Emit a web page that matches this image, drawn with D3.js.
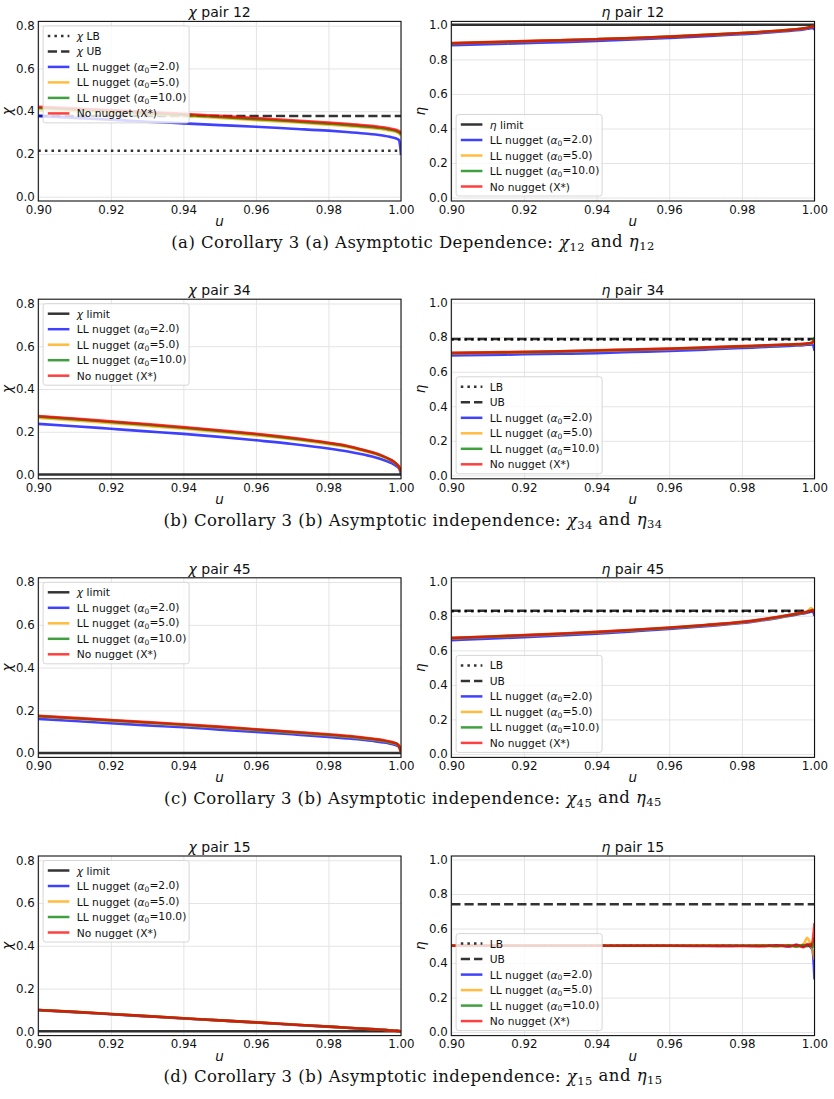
<!DOCTYPE html>
<html>
<head>
<meta charset="utf-8">
<script src="https://cdn.jsdelivr.net/npm/d3@7"></script>
<style>
  body { margin: 0; background: #fff; }
  svg text { font-family: "DejaVu Sans", sans-serif; fill: #111; }
  .grid line { stroke: #e4e4e4; stroke-width: 1; }
  .grid path { display: none; }
  .caption { font-family: "DejaVu Serif", serif; }
</style>
</head>
<body>
<svg id="fig" width="834" height="1099"></svg>
<script>
// threshold grid u (shared by every panel)
let uGrid = [0.90, 0.91, 0.92, 0.93, 0.94, 0.95, 0.96, 0.97, 0.98, 0.985, 0.99, 0.993, 0.995, 0.997, 0.998, 0.999, 0.9995, 1.0];

let xTicks = [0.90, 0.92, 0.94, 0.96, 0.98, 1.00];
let chiTicks = [0.0, 0.2, 0.4, 0.6, 0.8];
let etaTicks = [0.0, 0.2, 0.4, 0.6, 0.8, 1.0];
let alpha0 = ["2.0", "5.0", "10.0"];
let pairs = ["12", "34", "45", "15"];

// pair 12
let chi12LB = 0.215, chi12UB = 0.378, eta12Limit = 1.0;
let chi12_a2  = [0.378,0.369,0.360,0.351,0.343,0.335,0.327,0.318,0.309,0.303,0.296,0.291,0.286,0.280,0.276,0.270,0.263,0.195];
let chi12_a5  = [0.410,0.402,0.394,0.386,0.378,0.368,0.358,0.348,0.337,0.331,0.324,0.319,0.315,0.309,0.306,0.300,0.295,0.285];
let chi12_a10 = [0.416,0.408,0.400,0.391,0.383,0.373,0.363,0.353,0.342,0.336,0.329,0.324,0.320,0.314,0.311,0.305,0.301,0.292];
let chi12_nn  = [0.421,0.413,0.405,0.396,0.388,0.378,0.368,0.358,0.347,0.341,0.334,0.329,0.325,0.319,0.316,0.311,0.307,0.298];
let eta12_a2  = [0.882,0.888,0.894,0.900,0.907,0.915,0.924,0.934,0.946,0.952,0.960,0.965,0.969,0.974,0.977,0.980,0.982,0.972];
let eta12_a5  = [0.892,0.898,0.904,0.910,0.916,0.923,0.931,0.941,0.952,0.958,0.965,0.970,0.974,0.979,0.982,0.986,0.990,0.993];
let eta12_a10 = [0.893,0.899,0.905,0.911,0.917,0.924,0.932,0.942,0.953,0.959,0.966,0.971,0.975,0.980,0.983,0.987,0.991,0.998];
let eta12_nn  = [0.894,0.900,0.906,0.911,0.917,0.924,0.932,0.942,0.953,0.959,0.966,0.971,0.975,0.980,0.983,0.987,0.990,0.996];

// pair 34
let chi34Limit = 0.0, eta34LB = 0.786, eta34UB = 0.790;
let chi34_a2  = [0.237,0.226,0.214,0.202,0.190,0.176,0.160,0.143,0.122,0.109,0.092,0.080,0.069,0.056,0.048,0.036,0.027,0.003];
let chi34_a5  = [0.265,0.253,0.240,0.227,0.214,0.199,0.183,0.165,0.142,0.129,0.109,0.095,0.083,0.068,0.058,0.044,0.033,0.010];
let chi34_a10 = [0.271,0.259,0.246,0.233,0.219,0.204,0.188,0.169,0.147,0.133,0.112,0.098,0.085,0.070,0.060,0.045,0.034,0.011];
let chi34_nn  = [0.274,0.262,0.249,0.236,0.222,0.207,0.191,0.172,0.149,0.135,0.114,0.100,0.087,0.071,0.061,0.046,0.035,0.012];
let eta34_a2  = [0.694,0.697,0.701,0.704,0.708,0.714,0.720,0.728,0.737,0.742,0.747,0.750,0.752,0.754,0.756,0.757,0.758,0.722];
let eta34_a5  = [0.706,0.709,0.712,0.716,0.721,0.726,0.731,0.738,0.745,0.749,0.753,0.756,0.758,0.760,0.762,0.764,0.768,0.780];
let eta34_a10 = [0.708,0.711,0.714,0.718,0.723,0.728,0.733,0.740,0.747,0.751,0.755,0.757,0.759,0.761,0.763,0.766,0.772,0.800];
let eta34_nn  = [0.709,0.712,0.715,0.719,0.724,0.729,0.734,0.741,0.748,0.752,0.756,0.758,0.760,0.762,0.764,0.766,0.770,0.785];

// pair 45
let chi45Limit = 0.0, eta45LB = 0.826, eta45UB = 0.829;
let chi45_a2  = [0.160,0.150,0.140,0.130,0.121,0.110,0.099,0.088,0.076,0.069,0.061,0.055,0.050,0.044,0.040,0.034,0.027,0.002];
let chi45_a5  = [0.171,0.161,0.151,0.141,0.131,0.120,0.108,0.096,0.084,0.077,0.068,0.062,0.057,0.050,0.046,0.040,0.031,0.003];
let chi45_a10 = [0.173,0.163,0.153,0.143,0.133,0.122,0.110,0.098,0.086,0.079,0.070,0.064,0.059,0.052,0.048,0.042,0.032,0.003];
let chi45_nn  = [0.175,0.165,0.155,0.145,0.135,0.124,0.112,0.100,0.088,0.081,0.072,0.066,0.061,0.054,0.050,0.043,0.033,0.004];
let eta45_a2  = [0.659,0.667,0.676,0.686,0.697,0.710,0.724,0.740,0.758,0.772,0.788,0.799,0.806,0.814,0.818,0.823,0.825,0.800];
let eta45_a5  = [0.669,0.677,0.685,0.694,0.704,0.716,0.729,0.744,0.762,0.775,0.791,0.802,0.810,0.818,0.823,0.845,0.838,0.820];
let eta45_a10 = [0.671,0.679,0.687,0.696,0.706,0.718,0.731,0.746,0.764,0.777,0.793,0.804,0.811,0.819,0.823,0.828,0.834,0.812];
let eta45_nn  = [0.672,0.680,0.688,0.697,0.707,0.719,0.732,0.747,0.765,0.778,0.794,0.805,0.812,0.820,0.824,0.829,0.832,0.815];

// pair 15
let chi15Limit = 0.0, eta15LB = 0.500, eta15UB = 0.740;
let chi15_a2  = [0.099,0.090,0.080,0.070,0.060,0.051,0.041,0.031,0.022,0.017,0.012,0.009,0.007,0.004,0.003,0.002,0.001,0.000];
let chi15_a5  = [0.100,0.091,0.081,0.071,0.061,0.051,0.042,0.032,0.022,0.017,0.012,0.009,0.007,0.004,0.003,0.002,0.001,0.000];
let chi15_a10 = [0.100,0.091,0.081,0.071,0.061,0.051,0.042,0.032,0.022,0.017,0.012,0.009,0.007,0.004,0.003,0.002,0.001,0.000];
let chi15_nn  = [0.100,0.091,0.081,0.071,0.061,0.051,0.042,0.032,0.022,0.017,0.012,0.009,0.007,0.004,0.003,0.002,0.001,0.000];
let eta15_a2  = [0.500,0.500,0.500,0.500,0.500,0.500,0.500,0.499,0.500,0.499,0.503,0.496,0.506,0.495,0.505,0.490,0.470,0.305];
let eta15_a5  = [0.500,0.500,0.500,0.500,0.500,0.500,0.500,0.501,0.500,0.502,0.499,0.505,0.497,0.510,0.546,0.500,0.470,0.420];
let eta15_a10 = [0.500,0.500,0.500,0.500,0.500,0.500,0.500,0.500,0.500,0.501,0.498,0.503,0.495,0.505,0.497,0.512,0.490,0.550];
let eta15_nn  = [0.500,0.500,0.500,0.500,0.500,0.500,0.500,0.500,0.499,0.498,0.502,0.497,0.505,0.492,0.510,0.498,0.530,0.632];

let captions = [
  ["(a) Corollary 3 (a) Asymptotic Dependence: ", "12", "12"],
  ["(b) Corollary 3 (b) Asymptotic independence: ", "34", "34"],
  ["(c) Corollary 3 (b) Asymptotic independence: ", "45", "45"],
  ["(d) Corollary 3 (b) Asymptotic independence: ", "15", "15"]
];

let seriesColors = ["#0000ff", "#ffa500", "#008000", "#ff0000"];

// layout
let colX = [[38.3, 401], [451.3, 814.5]];
let rowTop = [21.4, 299.2, 577.8, 856.0];
let plotH = 179.6;
let captionY = [248, 526, 804, 1082];

let svg = d3.select("#fig");

// label pieces -> tspans
function writeParts(sel, parts) {
  parts.forEach((p) => {
    let t = sel.append("tspan").text(p.t);
    if (p.it) t.attr("font-style", "italic");
    if (p.sub) t.attr("font-size", "0.7em").attr("dy", "0.25em");
    if (p.up) t.attr("dy", "-0.25em");
  });
}

function nuggetLabel(a) {
  return [{t: "LL nugget ("}, {t: "α", it: true}, {t: "0", sub: true}, {t: "=" + a + ")", up: true}];
}

function drawPanel(cfg) {
  let [x0, x1] = colX[cfg.col];
  let top = rowTop[cfg.row];
  let bottom = top + plotH;
  let g = svg.append("g");

  let xScale = d3.scaleLinear().domain([0.9, 1.0]).range([x0, x1]);
  let yScale = d3.scaleLinear().domain(cfg.ylim).range([bottom, top]);

  // grid
  g.append("g").attr("class", "grid")
    .attr("transform", `translate(0, ${bottom})`)
    .call(d3.axisBottom(xScale).tickValues(xTicks).tickSize(-(plotH)).tickFormat(""));
  g.append("g").attr("class", "grid")
    .attr("transform", `translate(${x0}, 0)`)
    .call(d3.axisLeft(yScale).tickValues(cfg.ticks).tickSize(-(x1 - x0)).tickFormat(""));

  let clipId = "clip" + cfg.row + "_" + cfg.col;
  g.append("clipPath").attr("id", clipId)
    .append("rect").attr("x", x0).attr("y", top).attr("width", x1 - x0).attr("height", plotH);
  let plot = g.append("g").attr("clip-path", `url(#${clipId})`);

  // reference lines
  cfg.refs.forEach((r) => {
    plot.append("line")
      .attr("x1", xScale(0.9)).attr("x2", xScale(1.0))
      .attr("y1", yScale(r.value)).attr("y2", yScale(r.value))
      .attr("stroke", "#000").attr("stroke-opacity", 0.8)
      .attr("stroke-width", 2.5)
      .attr("stroke-dasharray", r.dash);
  });

  let line = d3.line().x((d, i) => xScale(uGrid[i])).y((d) => yScale(d)).curve(d3.curveMonotoneX);
  cfg.series.forEach((s, i) => {
    plot.append("path")
      .datum(s)
      .attr("d", line)
      .attr("fill", "none")
      .attr("stroke", seriesColors[i])
      .attr("stroke-opacity", 0.75)
      .attr("stroke-width", 2.6)
      .attr("stroke-linejoin", "round");
  });

  // frame
  g.append("rect").attr("x", x0).attr("y", top).attr("width", x1 - x0).attr("height", plotH)
    .attr("fill", "none").attr("stroke", "#111").attr("stroke-width", 1.1);

  // axes labels
  let xAxis = d3.axisBottom(xScale).tickValues(xTicks).tickSize(0).tickPadding(4.5).tickFormat(d3.format(".2f"));
  let yAxis = d3.axisLeft(yScale).tickValues(cfg.ticks).tickSize(0).tickPadding(3.5).tickFormat(d3.format(".1f"));
  let xg = g.append("g").attr("transform", `translate(0, ${bottom})`).call(xAxis);
  let yg = g.append("g").attr("transform", `translate(${x0}, 0)`).call(yAxis);
  [xg, yg].forEach((a) => {
    a.select(".domain").remove();
    a.selectAll("text").attr("font-size", 11.8).attr("fill", "#111")
      .style("font-family", '"DejaVu Sans", sans-serif');
  });

  // title
  let title = g.append("text").attr("x", (x0 + x1) / 2).attr("y", top - 4)
    .attr("text-anchor", "middle").attr("font-size", 14);
  writeParts(title, [{t: cfg.sym, it: true}, {t: " pair " + cfg.pair}]);

  g.append("text").attr("x", (x0 + x1) / 2).attr("y", bottom + 25)
    .attr("text-anchor", "middle").attr("font-size", 13.5).attr("font-style", "italic").text("u");

  g.append("text")
    .attr("transform", `translate(${x0 - 26}, ${(top + bottom) / 2}) rotate(-90)`)
    .attr("text-anchor", "middle").attr("font-size", 13.5).attr("font-style", "italic").text(cfg.sym);

  // legend
  let items = cfg.refs.map((r) => ({parts: r.label, color: "#000", op: 0.8, dash: r.dash}))
    .concat(cfg.series.map((s, i) => ({
      parts: i < 3 ? nuggetLabel(alpha0[i]) : [{t: "No nugget (X*)"}],
      color: seriesColors[i], op: 0.75, dash: null
    })));
  let step = 15.5, padT = 10, padB = 9.5;
  let lh = padT + step * (items.length - 1) + padB;
  let lx = x0 + 4.8;
  let ly = cfg.legend === "ul" ? top + 4.5 : bottom - 5 - lh;
  let lg = g.append("g");
  lg.append("rect").attr("x", lx).attr("y", ly).attr("width", 146).attr("height", lh)
    .attr("rx", 2.5).attr("fill", "#fff").attr("fill-opacity", 0.8)
    .attr("stroke", "#d6d6d6").attr("stroke-width", 1);
  items.forEach((it, i) => {
    let cy = ly + padT + i * step;
    lg.append("line").attr("x1", lx + 4.7).attr("x2", lx + 26.3)
      .attr("y1", cy).attr("y2", cy)
      .attr("stroke", it.color).attr("stroke-opacity", it.op).attr("stroke-width", 2.5)
      .attr("stroke-dasharray", it.dash);
    let t = lg.append("text").attr("x", lx + 33.7).attr("y", cy + 4).attr("font-size", 10.7);
    writeParts(t, it.parts);
  });
}

let dotted = "2.5,4.1";
let dashed = "9.2,4";

let chiData = [
  [chi12_a2, chi12_a5, chi12_a10, chi12_nn],
  [chi34_a2, chi34_a5, chi34_a10, chi34_nn],
  [chi45_a2, chi45_a5, chi45_a10, chi45_nn],
  [chi15_a2, chi15_a5, chi15_a10, chi15_nn]
];
let etaData = [
  [eta12_a2, eta12_a5, eta12_a10, eta12_nn],
  [eta34_a2, eta34_a5, eta34_a10, eta34_nn],
  [eta45_a2, eta45_a5, eta45_a10, eta45_nn],
  [eta15_a2, eta15_a5, eta15_a10, eta15_nn]
];
let chiRefs = [
  [{label: [{t: "χ", it: true}, {t: " LB"}], value: chi12LB, dash: dotted},
   {label: [{t: "χ", it: true}, {t: " UB"}], value: chi12UB, dash: dashed}],
  [{label: [{t: "χ", it: true}, {t: " limit"}], value: chi34Limit, dash: null}],
  [{label: [{t: "χ", it: true}, {t: " limit"}], value: chi45Limit, dash: null}],
  [{label: [{t: "χ", it: true}, {t: " limit"}], value: chi15Limit, dash: null}]
];
let etaRefs = [
  [{label: [{t: "η", it: true}, {t: " limit"}], value: eta12Limit, dash: null}],
  [{label: [{t: "LB"}], value: eta34LB, dash: dotted}, {label: [{t: "UB"}], value: eta34UB, dash: dashed}],
  [{label: [{t: "LB"}], value: eta45LB, dash: dotted}, {label: [{t: "UB"}], value: eta45UB, dash: dashed}],
  [{label: [{t: "LB"}], value: eta15LB, dash: dotted}, {label: [{t: "UB"}], value: eta15UB, dash: dashed}]
];

pairs.forEach((p, r) => {
  drawPanel({row: r, col: 0, sym: "χ", pair: p, ylim: [-0.02, 0.82], ticks: chiTicks,
             refs: chiRefs[r], series: chiData[r], legend: "ul"});
  drawPanel({row: r, col: 1, sym: "η", pair: p, ylim: [-0.02, 1.02], ticks: etaTicks,
             refs: etaRefs[r], series: etaData[r], legend: "ll"});

  let c = captions[r];
  let t = svg.append("text").attr("class", "caption")
    .attr("x", 413).attr("y", captionY[r]).attr("text-anchor", "middle")
    .attr("font-size", 16.5).attr("letter-spacing", 0.45);
  writeParts(t, [
    {t: c[0]}, {t: "χ", it: true}, {t: c[1], sub: true},
    {t: " and ", up: true}, {t: "η", it: true}, {t: c[2], sub: true}
  ]);
});
</script>
</body>
</html>
